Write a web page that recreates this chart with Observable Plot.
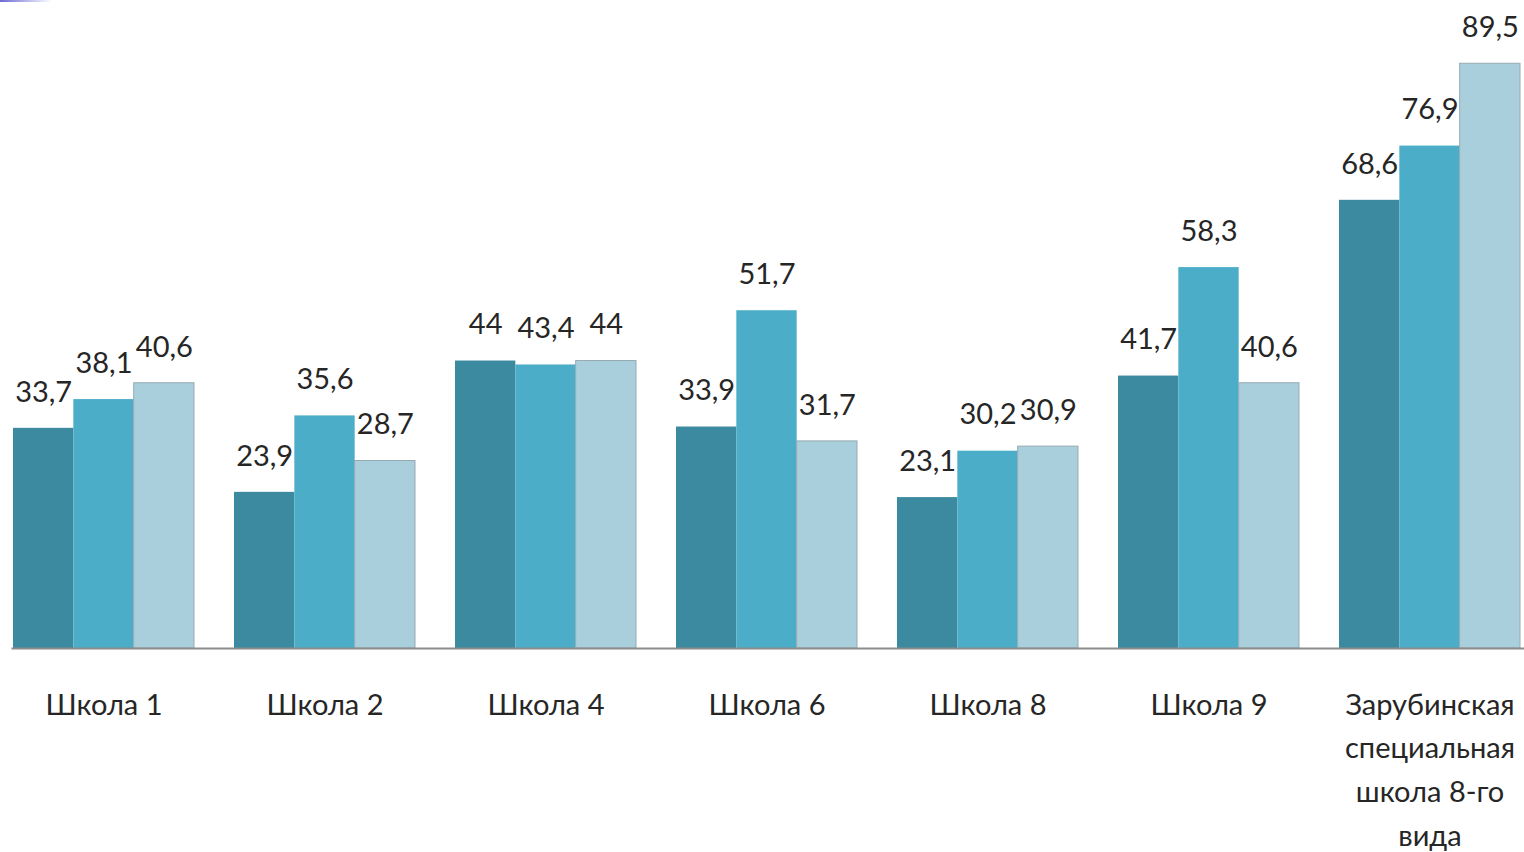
<!DOCTYPE html>
<html>
<head>
<meta charset="utf-8">
<script src="https://cdn.jsdelivr.net/npm/d3@7"></script>
<script src="https://cdn.jsdelivr.net/npm/@observablehq/plot@0.6"></script>
<style>
  html, body { margin: 0; padding: 0; background: #fff; }
  #wrap { position: relative; width: 1524px; height: 852px; overflow: hidden; }
  #corner { position: absolute; left: 0; top: 0; width: 52px; height: 2px;
            background: linear-gradient(to right, #6b6bd6, #ffffff); }
  svg { display: block; }
</style>
</head>
<body>
<div id="wrap"><div id="corner"></div><div id="chart"></div></div>
<script>
const categories = ["Школа 1", "Школа 2", "Школа 4", "Школа 6", "Школа 8", "Школа 9", "Зарубинская\nспециальная\nшкола 8-го\nвида"];
const seriesNames = ["A", "B", "C"];
const seriesA = [33.7, 23.9, 44, 33.9, 23.1, 41.7, 68.6];
const seriesB = [38.1, 35.6, 43.4, 51.7, 30.2, 58.3, 76.9];
const seriesC = [40.6, 28.7, 44, 31.7, 30.9, 40.6, 89.5];
const colors = ["#3b8aa0", "#4badc8", "#a9cfdd"];

const allSeries = [seriesA, seriesB, seriesC];
const data = [];
categories.forEach((c, i) => {
  allSeries.forEach((s, j) => data.push({group: c, series: seriesNames[j], value: s[i]}));
});
const fmt = v => String(v).replace(".", ",");
const font = "Lato, 'Noto Sans', sans-serif";

const chart = Plot.plot({
  width: 1524,
  height: 852,
  marginLeft: 13,
  marginRight: 4,
  marginTop: 60,
  marginBottom: 204,
  style: {fontFamily: font, background: "transparent"},
  fx: {domain: categories, paddingInner: 0.181, paddingOuter: 0, round: false, axis: null},
  x: {domain: seriesNames, padding: 0, round: false, axis: null},
  y: {domain: [0, 90], axis: null},
  color: {domain: seriesNames, range: colors},
  marks: [
    Plot.barY(data, {
      fx: "group", x: "series", y: "value", fill: "series",
      stroke: d => d.series === "C" ? "#97aab2" : "none", strokeWidth: 1
    }),
    Plot.frame({anchor: "bottom", facet: "super", stroke: "#8c8c8c", strokeWidth: 2, insetLeft: -1, insetRight: -4}),
    Plot.text(data, {
      fx: "group", x: "series", y: "value", text: d => fmt(d.value),
      dy: -36, lineAnchor: "middle", fontSize: 29, fill: "#262626", fontFamily: font
    }),
    Plot.text(categories, {
      fx: d => d, text: d => d, frameAnchor: "bottom", lineAnchor: "top",
      dy: 35, lineHeight: 1.51, fontSize: 29, fill: "#262626", fontFamily: font
    })
  ]
});
document.getElementById("chart").appendChild(chart);
</script>
</body>
</html>
